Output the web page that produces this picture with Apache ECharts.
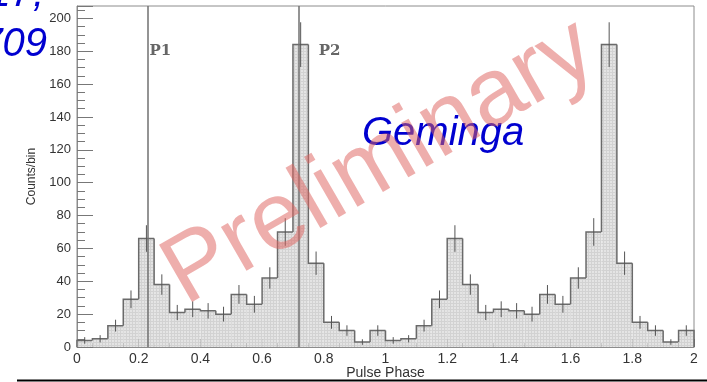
<!DOCTYPE html>
<html>
<head>
<meta charset="utf-8">
<script src="https://cdn.jsdelivr.net/npm/echarts@6/dist/echarts.min.js"></script>
<style>
  html, body { margin: 0; padding: 0; background: #fff; }
  #chart { width: 707px; height: 382px; }
</style>
</head>
<body>
<div id="chart"></div>
<script>
// Pulse phase bins (two rotations, 0.05 wide)
const binLow = [0.00,0.05,0.10,0.15,0.20,0.25,0.30,0.35,0.40,0.45,0.50,0.55,0.60,0.65,0.70,0.75,0.80,0.85,0.90,0.95,
                1.00,1.05,1.10,1.15,1.20,1.25,1.30,1.35,1.40,1.45,1.50,1.55,1.60,1.65,1.70,1.75,1.80,1.85,1.90,1.95];
const binWidth = 0.05;
// Counts per bin
const counts = [4,5,13,29,66,38,21,23,22,20,32,26,42,70,184,51,15,10,3,10,
                4,5,13,29,66,38,21,23,22,20,32,26,42,70,184,51,15,10,3,10];
// Statistical errors per bin
const errors = [2.0,2.2,3.6,5.4,8.1,6.2,4.6,4.8,4.7,4.5,5.7,5.1,6.5,8.4,13.6,7.1,3.9,3.2,1.7,3.2,
                2.0,2.2,3.6,5.4,8.1,6.2,4.6,4.8,4.7,4.5,5.7,5.1,6.5,8.4,13.6,7.1,3.9,3.2,1.7,3.2];
// Peak phases
const peakPhases = [0.225, 0.725];
const peakNames = ['P1', 'P2'];

// fine grid fill for the histogram body
const pat = document.createElement('canvas');
pat.width = 3; pat.height = 3;
const pc = pat.getContext('2d');
pc.fillStyle = '#e4e4e4'; pc.fillRect(0, 0, 3, 3);
pc.fillStyle = '#d2d2d2'; pc.fillRect(0, 0, 3, 1); pc.fillRect(0, 0, 1, 3);

const histData = binLow.map((x, i) => [x, x + binWidth, counts[i], errors[i]]);

const chart = echarts.init(document.getElementById('chart'), null, { renderer: 'canvas' });

const axisGray = '#8c8c8c';
const labelColor = '#333';

function renderBin(params, api) {
  const i = params.dataIndex;
  const x0 = api.value(0), x1 = api.value(1), c = api.value(2), e = api.value(3);
  const pBase = api.coord([x0, 0]);
  const pTop = api.coord([x1, c]);
  const prev = i > 0 ? counts[i - 1] : 0;
  const yPrev = api.coord([x0, prev])[1];
  const pts = [[pBase[0], yPrev], [pBase[0], pTop[1]], [pTop[0], pTop[1]]];
  if (i === counts.length - 1) pts.push([pTop[0], pBase[1]]);
  const xc = api.coord([(x0 + x1) / 2, 0])[0];
  const eLo = api.coord([x0, c - e])[1];
  const eHi = api.coord([x0, c + e])[1];
  return {
    type: 'group',
    children: [
      { type: 'rect', shape: { x: pBase[0], y: pTop[1], width: pTop[0] - pBase[0], height: pBase[1] - pTop[1] },
        style: { fill: { image: pat, repeat: 'repeat' } } },
      { type: 'polyline', shape: { points: pts }, style: { stroke: '#6a6a6a', lineWidth: 1.5, fill: null } },
      { type: 'line', shape: { x1: xc, y1: eLo, x2: xc, y2: eHi }, style: { stroke: '#555', lineWidth: 1 } }
    ]
  };
}

const option = {
  animation: false,
  backgroundColor: '#fff',
  grid: { left: 77, right: 13, top: 6, bottom: 35, containLabel: false, outerBoundsMode: 'none',
          show: true, borderColor: axisGray, borderWidth: 1, backgroundColor: 'transparent' },
  xAxis: {
    type: 'value', min: 0, max: 2, interval: 0.2,
    name: 'Pulse Phase', nameLocation: 'middle', nameGap: 19, nameMoveOverlap: false,
    nameTextStyle: { fontFamily: 'Liberation Sans', fontSize: 14, color: labelColor, verticalAlign: 'top' },
    axisLine: { show: true, lineStyle: { color: axisGray } },
    axisTick: { show: true, inside: true, length: 8, lineStyle: { color: '#777' } },
    minorTick: { show: true, splitNumber: 4, length: 4, lineStyle: { color: '#777' } },
    splitLine: { show: false },
    axisLabel: { fontFamily: 'Liberation Sans', fontSize: 14, color: labelColor, margin: 5,
                 formatter: v => String(Math.round(v * 10) / 10) }
  },
  yAxis: {
    type: 'value', min: 0, max: 207.5, interval: 20,
    name: 'Counts/bin', nameLocation: 'middle', nameGap: 39, nameMoveOverlap: false,
    nameTextStyle: { fontFamily: 'Liberation Sans', fontSize: 12, color: labelColor },
    axisLine: { show: true, lineStyle: { color: axisGray } },
    axisTick: { show: true, inside: true, length: 16, lineStyle: { color: '#777' } },
    minorTick: { show: true, splitNumber: 4, length: 8, lineStyle: { color: '#777' } },
    splitLine: { show: false },
    axisLabel: { fontFamily: 'Liberation Sans', fontSize: 13, color: labelColor, margin: 6, showMaxLabel: false }
  },
  series: [
    {
      type: 'custom', renderItem: renderBin, data: histData,
      encode: { x: [0, 1], y: 2 }, z: 2
    },
    {
      type: 'line', data: [], z: 3,
      markLine: {
        symbol: 'none', silent: true, animation: false,
        lineStyle: { color: '#707070', width: 1.5, type: 'solid' },
        label: { show: false },
        data: peakPhases.map(p => ({ xAxis: p }))
      }
    }
  ]
};
chart.setOption(option);

// overlay texts: peak names, source name, watermark, header fragment
const peakLabelOffset = [3, 18];
const graphics = [];
peakPhases.forEach((p, k) => {
  const px = chart.convertToPixel({ xAxisIndex: 0, yAxisIndex: 0 }, [p, 180]);
  graphics.push({
    type: 'text', x: px[0] + peakLabelOffset[k], y: px[1], z: 10,
    style: { text: peakNames[k], fontFamily: 'DejaVu Serif', fontWeight: 'bold', fontSize: 15,
             fill: '#666', textAlign: 'left', textVerticalAlign: 'middle' }
  });
});
graphics.push({
  type: 'text', x: 362, y: 134, z: 10,
  style: { text: 'Geminga', fontFamily: 'Liberation Sans', fontStyle: 'italic', fontSize: 40,
           fill: '#0000d0', textAlign: 'left', textVerticalAlign: 'middle' }
});
graphics.push({
  type: 'text', x: 47, y: 45, z: 10,
  style: { text: '1709', fontFamily: 'Liberation Sans', fontStyle: 'italic', fontSize: 40,
           fill: '#0000d0', textAlign: 'right', textVerticalAlign: 'middle' }
});
graphics.push({
  type: 'text', x: 44, y: -5, z: 10,
  style: { text: '2017,', fontFamily: 'Liberation Sans', fontStyle: 'italic', fontSize: 40,
           fill: '#0000d0', textAlign: 'right', textVerticalAlign: 'middle' }
});
graphics.push({
  type: 'text', x: 380, y: 163, z: 20, rotation: 30 * Math.PI / 180, originX: 0, originY: 0,
  style: { text: 'Preliminary', fontFamily: 'Liberation Sans', fontSize: 96,
           fill: 'rgba(222, 100, 95, 0.52)', textAlign: 'center', textVerticalAlign: 'middle' }
});
graphics.push({
  type: 'line', z: 10, shape: { x1: 17, y1: 380.5, x2: 707, y2: 380.5 },
  style: { stroke: '#000', lineWidth: 2 }
});
chart.setOption({ graphic: graphics });
</script>
</body>
</html>
